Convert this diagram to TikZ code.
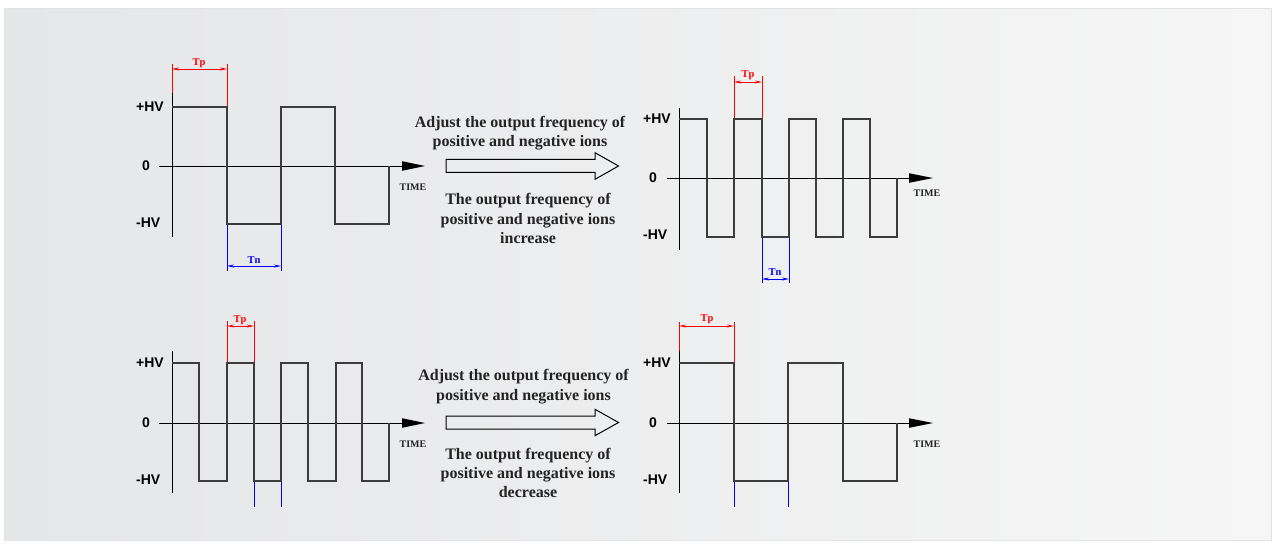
\documentclass[tikz,border=0pt]{standalone}
\usepackage{fontspec}
\setmainfont{Liberation Serif}
\newfontfamily\hvfont{Liberation Sans}
\usetikzlibrary{arrows.meta}
\definecolor{bgL}{RGB}{229,230,232}
\definecolor{bgR}{RGB}{246,246,246}
\definecolor{wave}{RGB}{60,60,60}
\definecolor{txt}{RGB}{35,35,35}
\tikzset{
  wavepath/.style={draw=wave,line width=1.05pt,line join=miter},
  axisline/.style={draw=black,line width=1pt},
  axishead/.style={fill=black,draw=none},
  lvl/.style={font=\hvfont\bfseries\fontsize{14}{16}\selectfont,inner sep=0pt,anchor=west,text=black},
  zlbl/.style={font=\hvfont\bfseries\fontsize{14}{16}\selectfont,inner sep=0pt,text=black},
  timelbl/.style={font=\bfseries\fontsize{10}{12}\selectfont,inner sep=0pt,text=txt},
  tplbl/.style={font=\bfseries\fontsize{10.5}{12}\selectfont,inner sep=0pt,text=red},
  tnlbl/.style={font=\bfseries\fontsize{10.5}{12}\selectfont,inner sep=0pt,text=blue},
  redext/.style={draw=red,line width=1pt},
  blueext/.style={draw=blue,line width=1pt},
  dimarr/.style={line width=0.9pt,{Stealth[length=7pt,width=3pt]}-{Stealth[length=7pt,width=3pt]}},
  midtxt/.style={font=\bfseries\fontsize{16}{19.3}\selectfont,align=center,inner sep=0pt,text=txt},
  blockarrow/.style={draw=black,line width=1pt,line join=miter}
}
\begin{document}
\begin{tikzpicture}[x=1pt,y=-1pt]
\useasboundingbox (0,0) rectangle (1276,544);
\fill[white] (0,0) rectangle (1276,544);
\shade[left color=bgL,right color=bgR] (4,8) rectangle (1271,540);
\draw[gray!22,line width=0.8pt] (4,8) rectangle (1271,540);

% ---------- dimension marks (under the waveforms) ----------
\draw[redext] (172,64) -- (172,106);
\draw[redext] (227,64) -- (227,106);
\draw[red,dimarr] (172,69) -- (227,69);
\node[tplbl] (p1tp) at (199,63) {Tp};
\draw[blueext] (227,225) -- (227,271);
\draw[blueext] (281,225) -- (281,271);
\draw[blue,dimarr] (227,266) -- (281,266);
\node[tnlbl] (p1tn) at (254,260) {Tn};

\draw[redext] (734,76) -- (734,118);
\draw[redext] (762,76) -- (762,118);
\draw[red,dimarr] (734,82) -- (762,82);
\node[tplbl] (p2tp) at (748,75) {Tp};
\draw[blueext] (762,238) -- (762,283);
\draw[blueext] (789,238) -- (789,283);
\draw[blue,dimarr] (762,279) -- (789,279);
\node[tnlbl] (p2tn) at (775,272) {Tn};

\draw[redext] (227,321) -- (227,362);
\draw[redext] (254,321) -- (254,362);
\draw[red,dimarr] (227,326) -- (254,326);
\node[tplbl] (p3tp) at (240,320) {Tp};
\draw[blueext] (254,482) -- (254,507);
\draw[blueext] (281,482) -- (281,507);

\draw[redext] (679,322) -- (679,362);
\draw[redext] (734,322) -- (734,362);
\draw[red,dimarr] (679,326) -- (734,326);
\node[tplbl] (p4tp) at (707,319) {Tp};
\draw[blueext] (734,482) -- (734,507);
\draw[blueext] (788,482) -- (788,507);

% ---------- Panel 1 (top-left) ----------
\draw[axisline] (172,93) -- (172,237);
\draw[axisline] (159,166) -- (402,166);
\fill[axishead] (402,161.2) -- (425,166) -- (402,170.8) -- cycle;
\draw[wavepath] (172,107) -- (227,107) -- (227,224) -- (281,224) -- (281,107) -- (335,107) -- (335,224) -- (389,224) -- (389,166);
\node[lvl] (p1hv) at (136,107) {+HV};
\node[zlbl] (p1z) at (146,166) {0};
\node[lvl] (p1nhv) at (136,223) {-HV};
\node[timelbl] (p1t) at (413,187) {TIME};

% ---------- Panel 2 (top-right) ----------
\draw[axisline] (679,108) -- (679,250);
\draw[axisline] (667,178) -- (909,178);
\fill[axishead] (909,173.2) -- (933,178) -- (909,182.8) -- cycle;
\draw[wavepath] (679,119) -- (707,119) -- (707,237) -- (734,237) -- (734,119) -- (762,119) -- (762,237) -- (789,237) -- (789,119) -- (816,119) -- (816,237) -- (843,237) -- (843,119) -- (870,119) -- (870,237) -- (897,237) -- (897,178);
\node[lvl] (p2hv) at (643,119) {+HV};
\node[zlbl] (p2z) at (653,178) {0};
\node[lvl] (p2nhv) at (643,235) {-HV};
\node[timelbl] (p2t) at (927,193) {TIME};

% ---------- Panel 3 (bottom-left) ----------
\draw[axisline] (172,351) -- (172,493);
\draw[axisline] (159,423) -- (402,423);
\fill[axishead] (402,418.2) -- (425,423) -- (402,427.8) -- cycle;
\draw[wavepath] (172,363) -- (199,363) -- (199,481) -- (227,481) -- (227,363) -- (254,363) -- (254,481) -- (281,481) -- (281,363) -- (308,363) -- (308,481) -- (336,481) -- (336,363) -- (362,363) -- (362,481) -- (389,481) -- (389,423);
\node[lvl] (p3hv) at (136,363) {+HV};
\node[zlbl] (p3z) at (146,423) {0};
\node[lvl] (p3nhv) at (136,480) {-HV};
\node[timelbl] (p3t) at (413,444) {TIME};

% ---------- Panel 4 (bottom-right) ----------
\draw[axisline] (679,351) -- (679,493);
\draw[axisline] (667,423) -- (909,423);
\fill[axishead] (909,418.2) -- (933,423) -- (909,427.8) -- cycle;
\draw[wavepath] (679,363) -- (734,363) -- (734,481) -- (788,481) -- (788,363) -- (843,363) -- (843,481) -- (897,481) -- (897,423);
\node[lvl] (p4hv) at (643,363) {+HV};
\node[zlbl] (p4z) at (653,423) {0};
\node[lvl] (p4nhv) at (643,480) {-HV};
\node[timelbl] (p4t) at (927,444) {TIME};

% ---------- Middle texts and block arrows ----------
\node[midtxt] (m1a) at (520,133) {Adjust the output frequency of\\positive and negative ions};
\draw[blockarrow] (446,159.3) -- (595,159.3) -- (595,152.7) -- (618.5,166) -- (595,179.3) -- (595,172.3) -- (446,172.3) -- cycle;
\node[midtxt] (m1b) at (528,218.5) {The output frequency of\\positive and negative ions\\increase};

\node[midtxt] (m2a) at (523.5,386.5) {Adjust the output frequency of\\positive and negative ions};
\draw[blockarrow] (446,416) -- (595,416) -- (595,409.3) -- (618.5,422.5) -- (595,435.7) -- (595,429) -- (446,429) -- cycle;
\node[midtxt] (m2b) at (528,473) {The output frequency of\\positive and negative ions\\decrease};
\end{tikzpicture}
\end{document}
